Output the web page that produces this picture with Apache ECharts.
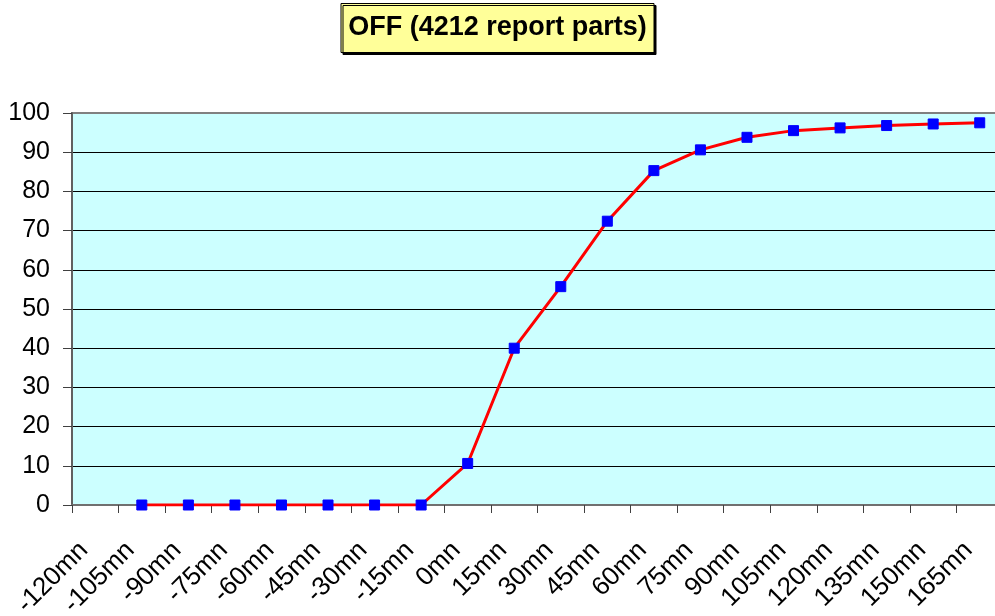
<!DOCTYPE html>
<html>
<head>
<meta charset="utf-8">
<script src="https://cdn.jsdelivr.net/npm/echarts@6/dist/echarts.min.js"></script>
<style>
html,body{margin:0;padding:0;background:#fff;}
#chart{width:995px;height:616px;}
</style>
</head>
<body>
<div id="chart"></div>
<script>
const titleText = 'OFF (4212 report parts)';
const categories = ['-120mn','-105mn','-90mn','-75mn','-60mn','-45mn','-30mn','-15mn','0mn','15mn','30mn','45mn','60mn','75mn','90mn','105mn','120mn','135mn','150mn','165mn'];
const values = [null, 0, 0, 0, 0, 0, 0, 0, 10.6, 40.0, 55.7, 72.4, 85.3, 90.6, 93.8, 95.5, 96.2, 96.8, 97.2, 97.5];
const yMin = 0, yMax = 100, yStep = 10;

const FONT = '"Liberation Sans", Arial, sans-serif';
const chart = echarts.init(document.getElementById('chart'), null, {renderer: 'canvas'});
chart.setOption({
  animation: false,
  backgroundColor: '#ffffff',
  title: {
    text: titleText,
    left: 'center',
    top: 3,
    padding: [10, 7, 10, 7],
    backgroundColor: '#FFFF99',
    borderColor: '#000000',
    borderWidth: 1,
    shadowColor: '#000000',
    shadowOffsetX: 2,
    shadowOffsetY: 2,
    shadowBlur: 0,
    textStyle: {fontFamily: FONT, fontSize: 27, fontWeight: 'bold', color: '#000', lineHeight: 30}
  },
  grid: {
    left: 72, width: 931, top: 113, height: 392,
    containLabel: false,
    outerBoundsMode: 'none',
    show: true,
    backgroundColor: '#CCFFFF',
    borderColor: '#808080',
    borderWidth: 2
  },
  xAxis: {
    type: 'category',
    data: categories,
    boundaryGap: true,
    axisLine: {show: true, lineStyle: {color: '#707070', width: 2}},
    axisTick: {show: true, length: 8, inside: false, lineStyle: {color: '#404040', width: 1}},
    axisLabel: {
      interval: 0, rotate: 45, margin: 30,
      padding: [0, 16, 0, 0],
      fontFamily: FONT, fontSize: 26, color: '#000'
    },
    splitLine: {show: false}
  },
  yAxis: {
    type: 'value',
    min: yMin, max: yMax, interval: yStep,
    axisLine: {show: true, lineStyle: {color: '#606060', width: 2}},
    axisTick: {show: true, length: 9, inside: false, lineStyle: {color: '#404040', width: 1}},
    axisLabel: {margin: 22, fontFamily: FONT, fontSize: 25, color: '#000'},
    splitLine: {show: true, showMinLine: false, showMaxLine: false, lineStyle: {color: '#000', width: 1}}
  },
  series: [{
    type: 'line',
    data: values,
    connectNulls: false,
    lineStyle: {color: '#FF0000', width: 3},
    itemStyle: {color: '#0000FF', borderColor: '#0000FF'},
    symbol: 'rect',
    symbolSize: 10,
    showSymbol: true,
    z: 3
  }]
});
</script>
</body>
</html>
